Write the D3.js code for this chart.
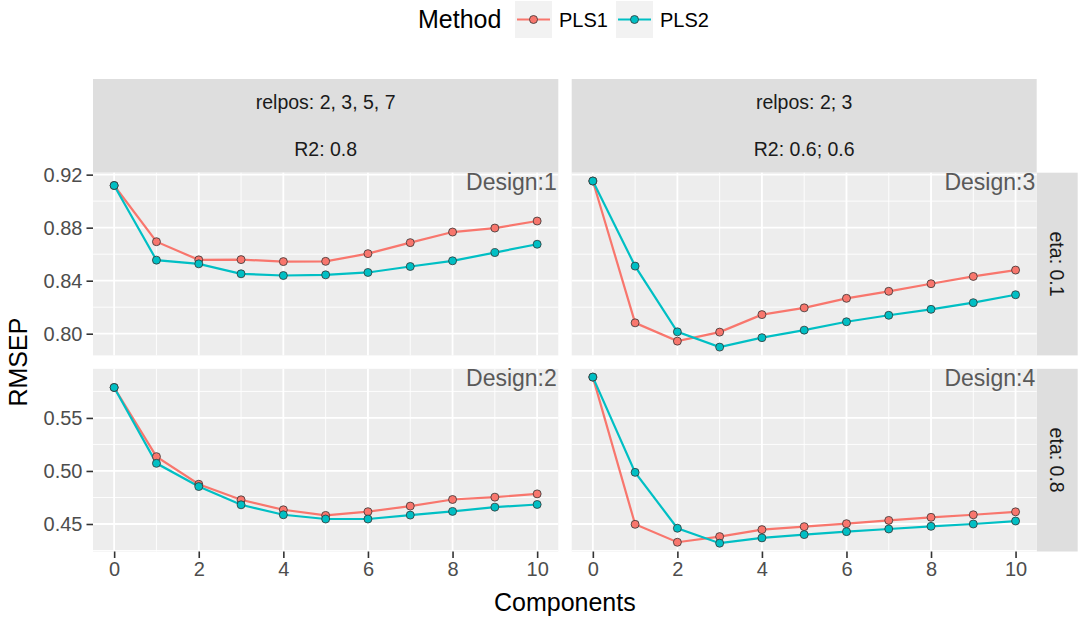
<!DOCTYPE html>
<html>
<head>
<meta charset="utf-8">
<script src="https://cdn.jsdelivr.net/npm/d3@7"></script>
<style>
body { margin: 0; background: #fff; }
text { font-family: "Liberation Sans", Arial, Helvetica, sans-serif; }
</style>
</head>
<body>
<div id="chart"></div>
<script>
var width = 1080,
	height = 618;

// data
var components = [0, 1, 2, 3, 4, 5, 6, 7, 8, 9, 10];
var methods = ['PLS1', 'PLS2'];
var methodColors = ['#F8766D', '#00BFC4'];

var design1Pls1 = [0.9118, 0.8694, 0.8557, 0.8559, 0.8544, 0.8546, 0.8604, 0.8687, 0.8767, 0.8797, 0.8850];
var design1Pls2 = [0.9118, 0.8555, 0.8527, 0.8452, 0.8439, 0.8444, 0.8462, 0.8507, 0.8550, 0.8612, 0.8675];
var design3Pls1 = [0.9152, 0.8082, 0.7944, 0.8012, 0.8144, 0.8195, 0.8267, 0.8320, 0.8377, 0.8432, 0.8480];
var design3Pls2 = [0.9152, 0.8510, 0.8014, 0.7899, 0.7970, 0.8027, 0.8090, 0.8139, 0.8184, 0.8234, 0.8294];
var design2Pls1 = [0.5787, 0.5135, 0.4875, 0.4728, 0.4634, 0.4581, 0.4616, 0.4669, 0.4731, 0.4753, 0.4784];
var design2Pls2 = [0.5787, 0.5072, 0.4853, 0.4681, 0.4587, 0.4547, 0.4547, 0.4584, 0.4619, 0.4659, 0.4684];
var design4Pls1 = [0.5885, 0.4497, 0.4328, 0.4381, 0.4447, 0.4475, 0.4503, 0.4534, 0.4563, 0.4587, 0.4615];
var design4Pls2 = [0.5885, 0.4987, 0.4460, 0.4319, 0.4369, 0.4400, 0.4428, 0.4453, 0.4478, 0.4500, 0.4528];

var colStrips = [['relpos: 2, 3, 5, 7', 'R2: 0.8'], ['relpos: 2; 3', 'R2: 0.6; 0.6']];
var rowStrips = ['eta: 0.1', 'eta: 0.8'];
var xTicks = [0, 2, 4, 6, 8, 10];
var yTicksRow = [[0.80, 0.84, 0.88, 0.92], [0.45, 0.50, 0.55]];

// panels: row, col, label, series
var panels = [
	{ row: 0, col: 0, label: 'Design:1', series: [design1Pls1, design1Pls2] },
	{ row: 0, col: 1, label: 'Design:3', series: [design3Pls1, design3Pls2] },
	{ row: 1, col: 0, label: 'Design:2', series: [design2Pls1, design2Pls2] },
	{ row: 1, col: 1, label: 'Design:4', series: [design4Pls1, design4Pls2] }
];

// layout
var colX = [[93, 558.3], [571.7, 1036.7]];
var rowY = [[172.7, 355.4], [368.8, 551.5]];
var stripTop = 79,
	rightStripW = 41;
var stripFill = '#DEDEDE',
	panelFill = '#EDEDED';

var svg = d3.select('#chart').append('svg')
	.attr('width', width)
	.attr('height', height);

function expand(ext) {
	var pad = (ext[1] - ext[0]) * 0.05;
	return [ext[0] - pad, ext[1] + pad];
}

var xScales = colX.map(function(r) {
	return d3.scaleLinear().domain(expand(d3.extent(components))).range(r);
});

var yScales = rowY.map(function(r, i) {
	var vals = [];
	panels.filter(function(p) { return p.row === i; }).forEach(function(p) {
		p.series.forEach(function(s) { vals = vals.concat(s); });
	});
	return d3.scaleLinear().domain(expand(d3.extent(vals))).range([r[1], r[0]]);
});

// column strips
colStrips.forEach(function(lines, c) {
	var x0 = colX[c][0], x1 = colX[c][1];
	var h = rowY[0][0] - stripTop;
	svg.append('rect')
		.attr('x', x0).attr('y', stripTop)
		.attr('width', x1 - x0).attr('height', h)
		.attr('fill', stripFill);
	lines.forEach(function(t, i) {
		svg.append('text')
			.attr('x', (x0 + x1) / 2)
			.attr('y', stripTop + h * (i * 2 + 1) / 4)
			.attr('dy', '0.35em')
			.attr('text-anchor', 'middle')
			.attr('font-size', 19.5)
			.attr('fill', '#1A1A1A')
			.text(t);
	});
});

// row strips
rowStrips.forEach(function(t, r) {
	var x0 = colX[1][1];
	var y0 = rowY[r][0], y1 = rowY[r][1];
	svg.append('rect')
		.attr('x', x0).attr('y', y0)
		.attr('width', rightStripW).attr('height', y1 - y0)
		.attr('fill', stripFill);
	svg.append('text')
		.attr('transform', 'translate(' + (x0 + rightStripW / 2) + ',' + ((y0 + y1) / 2) + ') rotate(90)')
		.attr('dy', '0.35em')
		.attr('text-anchor', 'middle')
		.attr('font-size', 19.5)
		.attr('fill', '#1A1A1A')
		.text(t);
});

var line = d3.line();

panels.forEach(function(p) {
	var xs = xScales[p.col], ys = yScales[p.row];
	var g = svg.append('g');
	var x0 = colX[p.col][0], x1 = colX[p.col][1];
	var y0 = rowY[p.row][0], y1 = rowY[p.row][1];

	g.append('rect')
		.attr('x', x0).attr('y', y0)
		.attr('width', x1 - x0).attr('height', y1 - y0)
		.attr('fill', panelFill);

	// minor grid
	var yt = yTicksRow[p.row];
	var ystep = yt[1] - yt[0];
	var yMinor = yt.map(function(t) { return t - ystep / 2; }).concat([yt[yt.length - 1] + ystep / 2])
		.filter(function(v) { return v >= ys.domain()[0] && v <= ys.domain()[1]; });
	var xMinor = xTicks.map(function(t) { return t + 1; })
		.filter(function(v) { return v <= xs.domain()[1]; });

	g.selectAll('.ymin').data(yMinor).enter().append('line')
		.attr('x1', x0).attr('x2', x1)
		.attr('y1', function(d) { return ys(d); }).attr('y2', function(d) { return ys(d); })
		.attr('stroke', '#fff').attr('stroke-width', 0.9);
	g.selectAll('.xmin').data(xMinor).enter().append('line')
		.attr('y1', y0).attr('y2', y1)
		.attr('x1', function(d) { return xs(d); }).attr('x2', function(d) { return xs(d); })
		.attr('stroke', '#fff').attr('stroke-width', 0.9);

	// major grid
	g.selectAll('.ymaj').data(yt).enter().append('line')
		.attr('x1', x0).attr('x2', x1)
		.attr('y1', function(d) { return ys(d); }).attr('y2', function(d) { return ys(d); })
		.attr('stroke', '#fff').attr('stroke-width', 1.8);
	g.selectAll('.xmaj').data(xTicks).enter().append('line')
		.attr('y1', y0).attr('y2', y1)
		.attr('x1', function(d) { return xs(d); }).attr('x2', function(d) { return xs(d); })
		.attr('stroke', '#fff').attr('stroke-width', 1.8);

	// lines
	p.series.forEach(function(s, i) {
		g.append('path')
			.attr('d', line(components.map(function(c, j) { return [xs(c), ys(s[j])]; })))
			.attr('fill', 'none')
			.attr('stroke', methodColors[i])
			.attr('stroke-width', 2.2);
	});
	// points
	p.series.forEach(function(s, i) {
		g.selectAll('.pt' + i).data(components).enter().append('circle')
			.attr('cx', function(c) { return xs(c); })
			.attr('cy', function(c, j) { return ys(s[j]); })
			.attr('r', 4)
			.attr('fill', methodColors[i])
			.attr('stroke', '#333')
			.attr('stroke-width', 0.8);
	});

	g.append('text')
		.attr('x', x1 - 1.5)
		.attr('y', y0 + 17.5)
		.attr('text-anchor', 'end')
		.attr('font-size', 23)
		.attr('fill', '#595959')
		.text(p.label);
});

// y axes
yScales.forEach(function(ys, r) {
	var ax = svg.append('g')
		.attr('transform', 'translate(' + colX[0][0] + ',0)')
		.call(d3.axisLeft(ys).tickValues(yTicksRow[r]).tickFormat(d3.format('.2f')).tickSize(6.5).tickPadding(4));
	ax.select('.domain').remove();
	ax.selectAll('line').attr('stroke', '#333').attr('stroke-width', 1.6);
	ax.selectAll('text').attr('fill', '#4D4D4D').attr('font-size', 20)
		.attr('font-family', '"Liberation Sans", Arial, sans-serif');
});

// x axes
xScales.forEach(function(xs) {
	var ax = svg.append('g')
		.attr('transform', 'translate(0,' + rowY[1][1] + ')')
		.call(d3.axisBottom(xs).tickValues(xTicks).tickFormat(d3.format('d')).tickSize(6.5).tickPadding(4));
	ax.select('.domain').remove();
	ax.selectAll('line').attr('stroke', '#333').attr('stroke-width', 1.6);
	ax.selectAll('text').attr('fill', '#4D4D4D').attr('font-size', 20)
		.attr('font-family', '"Liberation Sans", Arial, sans-serif');
});

// axis titles
svg.append('text')
	.attr('x', (colX[0][0] + colX[1][1]) / 2)
	.attr('y', 611)
	.attr('text-anchor', 'middle')
	.attr('font-size', 25)
	.attr('fill', '#000')
	.text('Components');

svg.append('text')
	.attr('transform', 'translate(27,' + ((rowY[0][0] + rowY[1][1]) / 2) + ') rotate(-90)')
	.attr('text-anchor', 'middle')
	.attr('font-size', 25)
	.attr('fill', '#000')
	.text('RMSEP');

// legend
var legend = svg.append('g');
legend.append('text')
	.attr('x', 418).attr('y', 19)
	.attr('dy', '0.35em')
	.attr('font-size', 25)
	.text('Method');

var keyX = [515, 616];
methods.forEach(function(m, i) {
	var kx = keyX[i];
	legend.append('rect')
		.attr('x', kx).attr('y', 1)
		.attr('width', 37).attr('height', 37)
		.attr('fill', '#F2F2F2');
	legend.append('line')
		.attr('x1', kx + 2).attr('x2', kx + 35)
		.attr('y1', 19.5).attr('y2', 19.5)
		.attr('stroke', methodColors[i]).attr('stroke-width', 2.2);
	legend.append('circle')
		.attr('cx', kx + 18.5).attr('cy', 19.5).attr('r', 4)
		.attr('fill', methodColors[i])
		.attr('stroke', '#333').attr('stroke-width', 0.8);
	legend.append('text')
		.attr('x', kx + 44).attr('y', 19.5)
		.attr('dy', '0.35em')
		.attr('font-size', 20)
		.text(m);
});
</script>
</body>
</html>
